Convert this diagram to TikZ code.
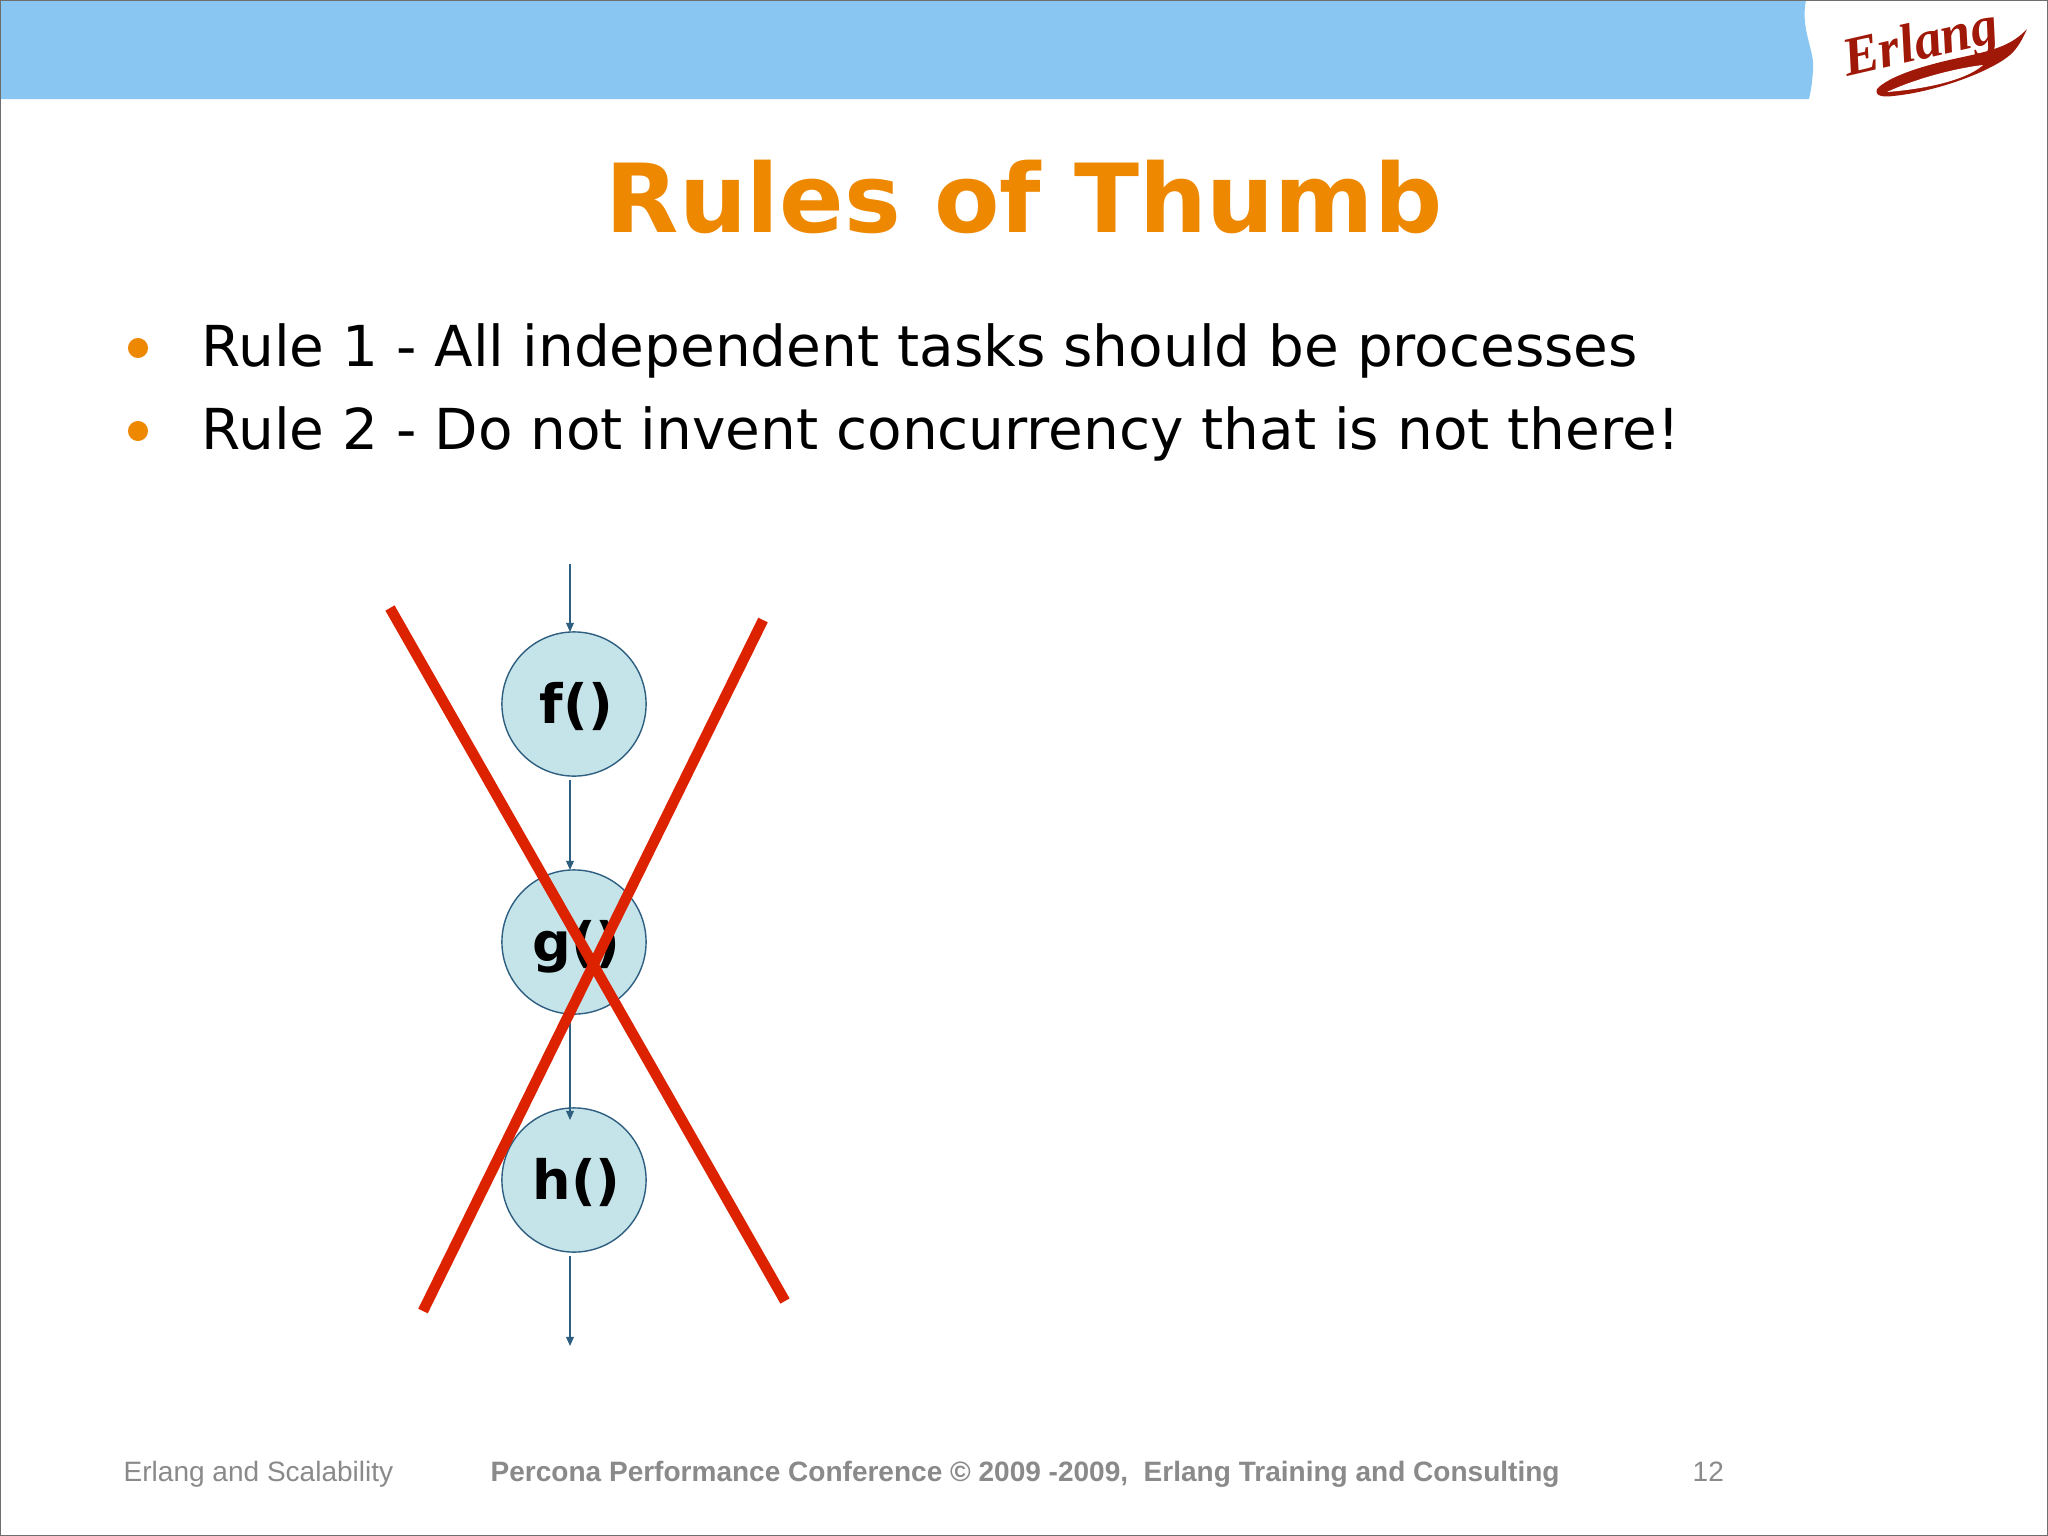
\documentclass[tikz,border=0pt]{standalone}
\usepackage{xcolor}
\usepackage{fontspec}
\setmainfont{DejaVu Sans}
\newfontfamily\footfont{Liberation Sans}
\newfontfamily\logofont{Liberation Serif}
\definecolor{barblue}{HTML}{89C7F2}
\definecolor{titleorange}{HTML}{EE8800}
\definecolor{nodefill}{HTML}{C5E4EA}
\definecolor{nodeline}{HTML}{2F5F80}
\definecolor{crossred}{HTML}{DD2200}
\definecolor{footgrey}{HTML}{8A8A8A}
\definecolor{logored}{HTML}{A01808}
\usetikzlibrary{arrows.meta}
\newcommand{\calllabel}[1]{\hspace*{1.4pt}\raisebox{-5.4pt}[0pt][0pt]{#1}}
\tikzset{
 callnode/.style={circle, draw=nodeline, fill=nodefill, line width=0.4pt, minimum size=41pt, inner sep=0pt, font=\fontsize{15.4}{17}\selectfont\bfseries},
 callarrow/.style={draw=nodeline, line width=0.4pt, -{Triangle[length=2.6pt,width=2.2pt]}},
 crossline/.style={crossred, line width=3pt},
 bulletdot/.style={circle, fill=titleorange, minimum size=5.7pt, inner sep=0pt},
 ruletext/.style={anchor=base west, inner sep=0pt, font=\fontsize{16.05}{18}\selectfont},
 foottext/.style={anchor=base west, inner sep=0pt, footgrey, font=\fontsize{7.97}{10}\footfont},
}
\begin{document}
\begin{tikzpicture}[x=0.01cm, y=-0.01cm]
 \useasboundingbox (0, 0) rectangle (2048, 1536);
 \fill [white] (0, 0) rectangle (2048, 1536);
 \fill [barblue] (0, 0) -- (1806, 0) .. controls (1800, 30) and (1815, 50) .. (1813, 70) .. controls (1812, 85) and (1811, 90) .. (1809, 99) -- (0, 99) -- cycle;
 \draw [footgrey!80!black, line width=0.5pt] (0, 0) rectangle (2048, 1536);

 \fill [logored] (2027, 29) .. controls (2012, 45) and (1995, 50) .. (1963, 57) .. controls (1910, 68) and (1885, 80) .. (1877, 89) .. controls (1874, 97) and (1885, 97) .. (1893, 96) .. controls (1935, 92) and (1990, 72) .. (2010, 55) .. controls (2018, 48) and (2023, 38) .. (2027, 29) -- cycle;
 \fill [white] (1887, 92) .. controls (1917, 78) and (1957, 68) .. (1983, 65) .. controls (1970, 77) and (1937, 88) .. (1887, 92) -- cycle;
 \node [rotate=13, text=logored, inner sep=0pt, font=\fontsize{15.5}{18}\logofont\bfseries\itshape] (logo) at (1921, 46) {Erlang};

 \node [anchor=base, inner sep=0pt, text=titleorange, font=\fontsize{27.1}{30}\selectfont\bfseries] (title) at (1024, 232) {Rules of Thumb};

 \node [bulletdot] (dot1) at (138, 348) {};
 \node [bulletdot] (dot2) at (138, 431) {};
 \node [ruletext] (rule1) at (201, 366) {Rule 1 - All independent tasks should be processes};
 \node [ruletext] (rule2) at (201, 449) {Rule 2 - Do not invent concurrency that is not there!};

 \coordinate (in) at (570, 564);
 \coordinate (out) at (570, 1346);
 \node [callnode] (f) at (574, 704) {\calllabel{f()}};
 \node [callnode] (g) at (574, 942) {\calllabel{g()}};
 \node [callnode] (h) at (574, 1180) {\calllabel{h()}};

 \draw [callarrow] (in) -- (570, 632);
 \draw [callarrow] (570, 780) -- (570, 870);
 \draw [callarrow] (570, 1016) -- (570, 1120);
 \draw [callarrow] (570, 1256) -- (out);

 \coordinate (a1) at (390, 608);
 \coordinate (a2) at (785, 1301);
 \coordinate (b1) at (763, 620);
 \coordinate (b2) at (423, 1311);
 \draw [crossline] (a1) -- (a2);
 \draw [crossline] (b1) -- (b2);

 \node [foottext] (foot1) at (123, 1481) {Erlang and Scalability};
 \node [foottext, font=\fontsize{7.97}{10}\footfont\bfseries] (foot2) at (490, 1481) {Percona Performance Conference © 2009 -2009,~~Erlang Training and Consulting};
 \node [foottext] (foot3) at (1692, 1481) {12};
\end{tikzpicture}
\end{document}
